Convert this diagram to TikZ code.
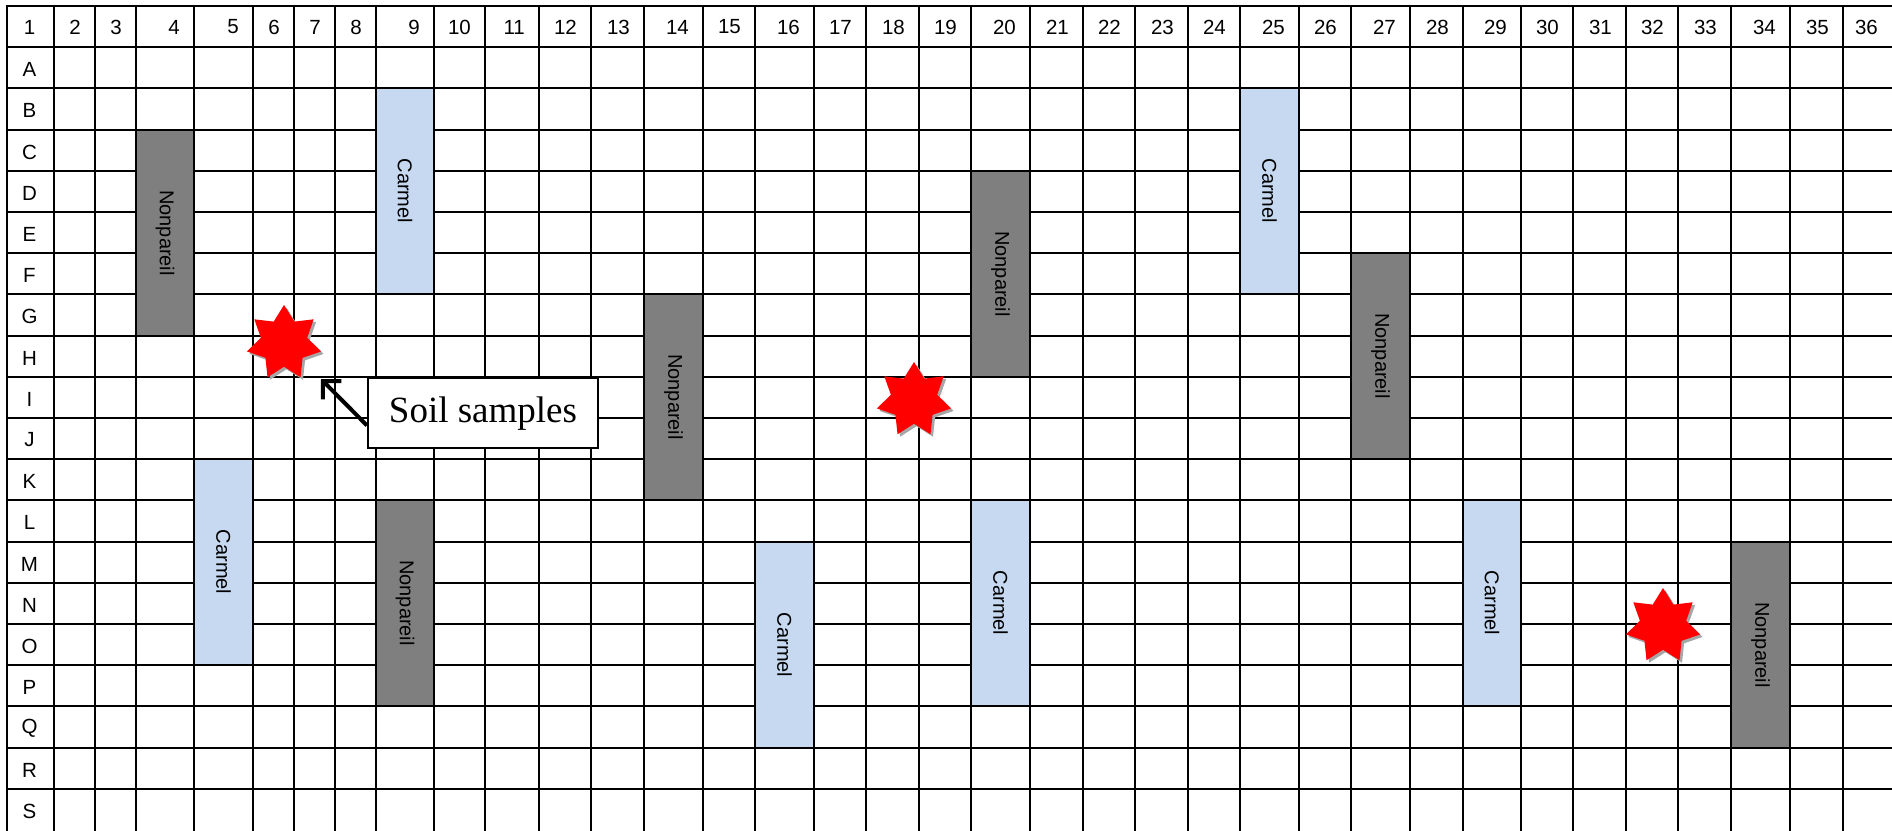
\documentclass[tikz,border=0pt]{standalone}
\usepackage{fontspec}
\setmainfont{Liberation Serif}
\newfontfamily\arialf{Liberation Sans}
\usetikzlibrary{shapes.geometric,arrows.meta,shadows}
\definecolor{nonpgray}{RGB}{127,127,127}
\definecolor{carmblue}{RGB}{198,217,241}
\tikzset{
 gridline/.style={line width=2pt, black},
 hdr/.style={font=\arialf\fontsize{20.5}{22}\selectfont, inner sep=0},
 cultbox/.style={rotate=-90, inner sep=0, font=\arialf\fontsize{20}{22}\selectfont},
 nonp/.style={cultbox, fill=nonpgray},
 carm/.style={cultbox, fill=carmblue},
 sample/.style={star, star points=7, star point ratio=1.6, minimum size=76pt, inner sep=0, fill=red,
   drop shadow={shadow xshift=2.5pt, shadow yshift=-2.5pt, fill=black!35, opacity=1}},
 callout/.style={draw, line width=2pt, fill=white, minimum width=230pt, minimum height=70pt,
   inner sep=0, font=\fontsize{37}{40}\selectfont},
 pointer/.style={line width=4pt, -{Straight Barb[length=13pt,width=26pt]}}
}
\newcommand\cultivar[7]{%
 \node[#2, minimum width={#6-#5-2}, minimum height={#4-#3-2}] (#1) at ({(#3+#4)/2},{(#5+#6)/2}) {#7};}
\begin{document}
\begin{tikzpicture}[x=1pt,y=-1pt]
\useasboundingbox (0,0) rectangle (1892,830);
% grid
\foreach \x in {7,54,95,136,194,253,294,335,376,434,485,539,591,644,703,755,814,866,919,971,1030,1083,1135,1188,1240,1299,1351,1410,1463,1521,1573,1626,1678,1731,1790,1843}
  \draw[gridline] (\x,5) -- (\x,832);
\foreach \y in {6,47,88,130,171,212,253,294,336,377,418,459,500,542,583,624,665,706,748,789}
  \draw[gridline] (6,\y) -- (1895,\y);
% plots
\cultivar{n4}{nonp}{136}{194}{130}{336}{Nonpareil}
\cultivar{c9}{carm}{376}{434}{88}{294}{Carmel}
\cultivar{n14}{nonp}{644}{703}{294}{500}{Nonpareil}
\cultivar{n20}{nonp}{971}{1030}{171}{377}{Nonpareil}
\cultivar{c25}{carm}{1240}{1299}{88}{294}{Carmel}
\cultivar{n27}{nonp}{1351}{1410}{253}{459}{Nonpareil}
\cultivar{c5}{carm}{194}{253}{459}{665}{Carmel}
\cultivar{n9}{nonp}{376}{434}{500}{706}{Nonpareil}
\cultivar{c16}{carm}{755}{814}{542}{748}{Carmel}
\cultivar{c20}{carm}{971}{1030}{500}{706}{Carmel}
\cultivar{c29}{carm}{1463}{1521}{500}{706}{Carmel}
\cultivar{n34}{nonp}{1731}{1790}{542}{748}{Nonpareil}
% header numbers
\node[hdr] (h1) at (29.5,27) {1};
\foreach \n/\r in {2/95,3/136,4/194,5/253,6/294,7/335,8/376,9/434,10/485,11/539,12/591,13/644,14/703,15/755,16/814,17/866,18/919,19/971,20/1030,21/1083,22/1135,23/1188,24/1240,25/1299,26/1351,27/1410,28/1463,29/1521,30/1573,31/1626,32/1678,33/1731,34/1790,35/1843,36/1892}
  \node[hdr, anchor=east] (h\n) at (\r-14,27) {\n};
% row letters
\foreach \L/\y in {A/47,B/88,C/130,D/171,E/212,F/253,G/294,H/336,I/377,J/418,K/459,L/500,M/542,N/583,O/624,P/665,Q/706,R/748,S/789}
  \node[hdr] (r\L) at (29.5,\y+22) {\L};
% soil samples
\node[sample] (s1) at (284,343) {};
\node[sample] (s2) at (914,400) {};
\node[sample] (s3) at (1663,626) {};
\node[callout] (soil) at (483,413.3) {Soil samples};
\coordinate (tip) at (321,379);
\draw[pointer] (soil.186) -- (tip);
\end{tikzpicture}
\end{document}
